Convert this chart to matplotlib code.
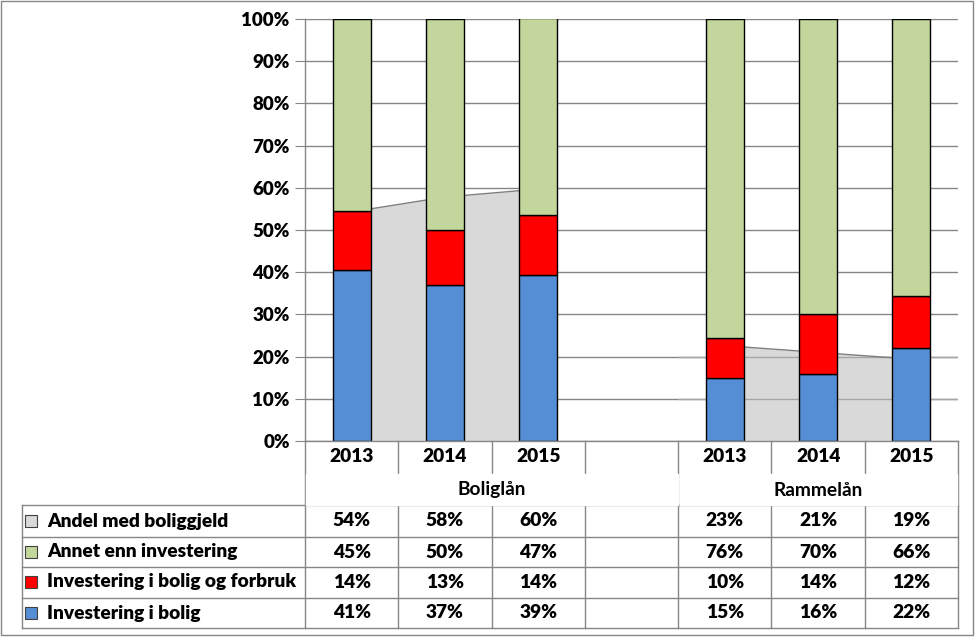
import matplotlib.pyplot as plt
from matplotlib.transforms import blended_transform_factory
from matplotlib.patches import Rectangle
from matplotlib.lines import Line2D

plt.rcParams['font.family'] = ['Lato', 'DejaVu Sans']

# data
years = ['2013', '2014', '2015', '', '2013', '2014', '2015']
groups = ['Boliglån', 'Rammelån']
andel_boliggjeld = [54.3, 57.8, 59.7, None, 22.6, 21.0, 19.4]
investering_bolig = [40.6, 37.0, 39.3, None, 14.9, 15.9, 22.0]
invest_og_forbruk = [14.0, 13.0, 14.3, None, 9.6, 14.2, 12.4]
annet = [45.4, 50.0, 46.6, None, 75.6, 69.9, 65.6]

series_names = ['Andel med boliggjeld', 'Annet enn investering',
                'Investering i bolig og forbruk', 'Investering i bolig']
c_gray, c_green, c_red, c_blue = '#d9d9d9', '#c3d69b', '#ff0000', '#558ed5'
grid_c = '#868686'
FW = 'heavy'
fs = 13.8

W, H = 976, 637
fig = plt.figure(figsize=(W / 100, H / 100), dpi=100)

def fy(py):
    return 1 - py / H

def fx(px):
    return px / W

ax = fig.add_axes([fx(305), fy(441), (958 - 305) / W, (441 - 19) / H])

# area
for seg in ([0, 1, 2], [4, 5, 6]):
    ys = [andel_boliggjeld[i] for i in seg]
    ax.fill_between(seg, 0, ys, color=c_gray, lw=0, zorder=1)
    ax.plot(seg, ys, color='#7f7f7f', lw=1, zorder=1.5)
# in the right group the gridlines show through the area
ax.hlines([10, 20], 3.5, 6.5, color='#a6a6a6', lw=1, zorder=1.2)

# stacked bars
bw = 0.41
for i in range(len(years)):
    if investering_bolig[i] is None:
        continue
    b = investering_bolig[i]
    r = invest_og_forbruk[i]
    g = annet[i]
    ax.bar(i, b, bw, color=c_blue, edgecolor='black', lw=1, zorder=2)
    ax.bar(i, r, bw, bottom=b, color=c_red, edgecolor='black', lw=1, zorder=2)
    ax.bar(i, g, bw, bottom=b + r, color=c_green, edgecolor='black', lw=1,
           zorder=2)

ax.set_xlim(-0.5, 6.5)
ax.set_ylim(0, 100)
ax.set_yticks(range(0, 101, 10))
ax.set_yticklabels([f'{v}%' for v in range(0, 101, 10)], fontsize=13.5,
                   fontweight=FW)
ax.tick_params(axis='y', length=7, color=grid_c, pad=4)
ax.set_xticks([])
ax.yaxis.grid(True, color=grid_c, lw=1, zorder=0)
ax.set_axisbelow(True)
for s in ['top', 'right']:
    ax.spines[s].set_visible(False)
for s in ['left', 'bottom']:
    ax.spines[s].set_color(grid_c)
    ax.spines[s].set_linewidth(1)
ax.spines['bottom'].set_zorder(3)

# data table below
tr = blended_transform_factory(ax.transData, fig.transFigure)
line_kw = dict(color=grid_c, lw=1)

def vline(x, y0, y1, trans=tr):
    fig.add_artist(Line2D([x, x], [fy(y0), fy(y1)], transform=trans, **line_kw))

bounds = [i - 0.5 for i in range(len(years) + 1)]
for b in bounds:
    vline(b, 441, 628)

# blank out the group row where there is no divider
for x0, x1 in ((306, 679), (680, 958)):
    fig.patches.append(Rectangle((fx(x0), fy(505) + 0.5 / H), fx(x1) - fx(x0) - 1 / W,
                                 fy(473) - fy(505) - 1 / H,
                                 transform=fig.transFigure, color='white',
                                 zorder=5))

vline(fx(22), 505, 628, trans=fig.transFigure)
for py in (505, 537, 567, 598, 628):
    fig.add_artist(Line2D([fx(22), fx(958)], [fy(py), fy(py)],
                          transform=fig.transFigure, **line_kw))

for i, y in enumerate(years):
    fig.text(i, fy(457), y, transform=tr, ha='center', va='center',
             fontsize=fs, fontweight=FW)
fig.text(1.5, fy(490), groups[0], transform=tr, ha='center', va='center',
         fontsize=fs, fontweight='bold', zorder=6)
fig.text(5.0, fy(490), groups[1], transform=tr, ha='center', va='center',
         fontsize=fs, fontweight='bold', zorder=6)

rows = [andel_boliggjeld, annet, invest_og_forbruk, investering_bolig]
colors = [c_gray, c_green, c_red, c_blue]
row_mid = [521, 552, 582, 613]
for name, vals, col, ym in zip(series_names, rows, colors, row_mid):
    fig.patches.append(Rectangle((fx(25), fy(ym + 6)), 12 / W, 12 / H,
                                 transform=fig.transFigure, facecolor=col,
                                 edgecolor='#404040', lw=0.8))
    fig.text(fx(47), fy(ym), name, ha='left', va='center', fontsize=fs,
             fontweight=FW)
    for i, v in enumerate(vals):
        if v is None:
            continue
        fig.text(i, fy(ym), f'{round(v):d}%', transform=tr, ha='center',
                 va='center', fontsize=fs, fontweight=FW)

# outer border
fig.patches.append(Rectangle((fx(1), fy(635)), fx(973) - fx(1), fy(1) - fy(635),
                             transform=fig.transFigure, fill=False,
                             edgecolor='#868686', lw=1))

fig.savefig('out.png', dpi=100)
